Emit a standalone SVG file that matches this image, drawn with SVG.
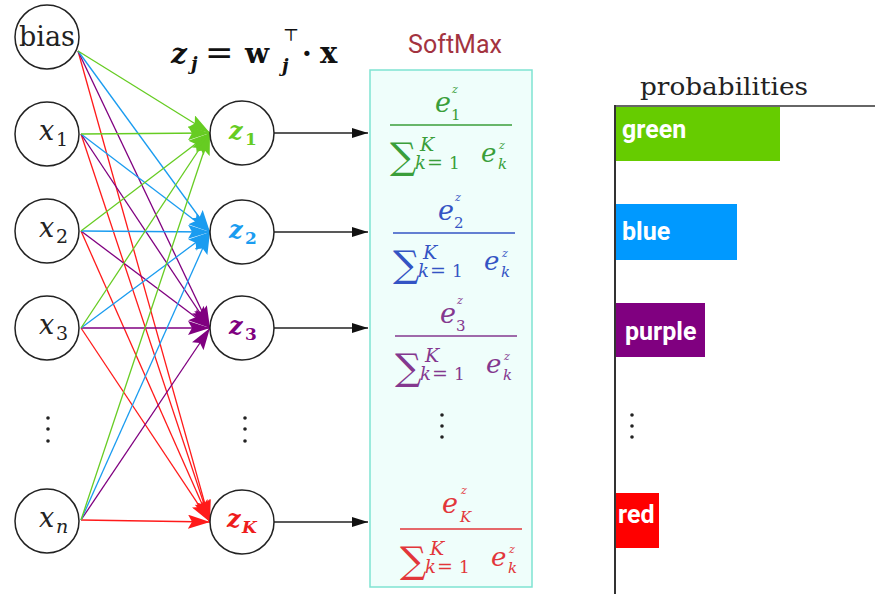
<svg xmlns="http://www.w3.org/2000/svg" width="875" height="594" viewBox="0 0 875 594">
<style>
.nd circle{fill:#fff;stroke:#222;stroke-width:1.5}
.mi{font-family:"DejaVu Serif","Liberation Serif",serif;font-style:italic;stroke:none}
.mb{font-family:"DejaVu Serif","Liberation Serif",serif;font-style:italic;font-weight:bold;stroke:none}
.rb{font-family:"DejaVu Serif","Liberation Serif",serif;font-weight:bold;stroke:none}
.r{font-family:"DejaVu Serif","Liberation Serif",serif;stroke:none}
.lbl{font-family:Roboto,"Liberation Sans",sans-serif;font-weight:bold;fill:#fff;font-size:25px}
.g{stroke:#66cc22}.b{stroke:#1a9cf0}.p{stroke:#800080}.rd{stroke:#ff1a1a}
#conn line{stroke-width:1.3;fill:none}
.ar line{stroke:#222;stroke-width:1.5}
.dot{fill:#222}
</style>
<defs>
<marker id="mg" viewBox="0 0 22 14" refX="22" refY="7" markerWidth="22" markerHeight="14" markerUnits="userSpaceOnUse" orient="auto"><path d="M0,0 L22,7 L0,14 L4,7 z" fill="#66cc22"/></marker>
<marker id="mb" viewBox="0 0 22 14" refX="22" refY="7" markerWidth="22" markerHeight="14" markerUnits="userSpaceOnUse" orient="auto"><path d="M0,0 L22,7 L0,14 L4,7 z" fill="#1a9cf0"/></marker>
<marker id="mp" viewBox="0 0 22 14" refX="22" refY="7" markerWidth="22" markerHeight="14" markerUnits="userSpaceOnUse" orient="auto"><path d="M0,0 L22,7 L0,14 L4,7 z" fill="#800080"/></marker>
<marker id="mr" viewBox="0 0 22 14" refX="22" refY="7" markerWidth="22" markerHeight="14" markerUnits="userSpaceOnUse" orient="auto"><path d="M0,0 L22,7 L0,14 L4,7 z" fill="#ff1a1a"/></marker>
<marker id="mk" viewBox="0 0 16 10" refX="16" refY="5" markerWidth="16" markerHeight="10" markerUnits="userSpaceOnUse" orient="auto"><path d="M0,0 L16,5 L0,10 z" fill="#111"/></marker>
</defs>
<rect width="875" height="594" fill="#fff"/>

<!-- softmax box -->
<g id="softmax">
<text x="455" y="53" text-anchor="middle" font-family="Roboto,'Liberation Sans',sans-serif" font-size="25" fill="#a3333f">SoftMax</text>
<rect x="370" y="70" width="162" height="517" fill="#effefb" stroke="#7fe3d2" stroke-width="1.5"/>
</g>

<!-- connectors -->
<g id="conn">
<line class="rd" x1="78" y1="51" x2="210" y2="522" marker-end="url(#mr)"/>
<line class="rd" x1="81" y1="134" x2="210" y2="522" marker-end="url(#mr)"/>
<line class="rd" x1="81" y1="231" x2="210" y2="522" marker-end="url(#mr)"/>
<line class="rd" x1="81" y1="328" x2="210" y2="522" marker-end="url(#mr)"/>
<line class="rd" x1="81" y1="520" x2="210" y2="522" marker-end="url(#mr)"/>
<line class="p" x1="78" y1="51" x2="210" y2="328" marker-end="url(#mp)"/>
<line class="p" x1="81" y1="134" x2="210" y2="328" marker-end="url(#mp)"/>
<line class="p" x1="81" y1="231" x2="210" y2="328" marker-end="url(#mp)"/>
<line class="p" x1="81" y1="328" x2="210" y2="328" marker-end="url(#mp)"/>
<line class="p" x1="81" y1="520" x2="210" y2="328" marker-end="url(#mp)"/>
<line class="b" x1="78" y1="51" x2="210" y2="232" marker-end="url(#mb)"/>
<line class="b" x1="81" y1="134" x2="210" y2="232" marker-end="url(#mb)"/>
<line class="b" x1="81" y1="231" x2="210" y2="232" marker-end="url(#mb)"/>
<line class="b" x1="81" y1="328" x2="210" y2="232" marker-end="url(#mb)"/>
<line class="b" x1="81" y1="520" x2="210" y2="232" marker-end="url(#mb)"/>
<line class="g" x1="78" y1="51" x2="210" y2="133" marker-end="url(#mg)"/>
<line class="g" x1="81" y1="134" x2="210" y2="133" marker-end="url(#mg)"/>
<line class="g" x1="81" y1="231" x2="210" y2="133" marker-end="url(#mg)"/>
<line class="g" x1="81" y1="328" x2="210" y2="133" marker-end="url(#mg)"/>
<line class="g" x1="81" y1="520" x2="210" y2="133" marker-end="url(#mg)"/>
<g class="ar">
<line x1="274" y1="133" x2="368" y2="133" marker-end="url(#mk)"/>
<line x1="274" y1="232" x2="368" y2="232" marker-end="url(#mk)"/>
<line x1="274" y1="328" x2="368" y2="328" marker-end="url(#mk)"/>
<line x1="274" y1="522" x2="368" y2="522" marker-end="url(#mk)"/>
</g>
</g>

<!-- input nodes -->
<g id="bias" class="nd"><circle cx="47" cy="37" r="32"/><text class="r" x="47" y="46" text-anchor="middle" font-size="27" fill="#222">bias</text></g>
<g id="x1" class="nd"><circle cx="47" cy="134" r="32"/><text class="mi" x="39" y="140" font-size="27" fill="#222">x</text><text class="r" x="56" y="146" font-size="19" fill="#222">1</text></g>
<g id="x2" class="nd"><circle cx="47" cy="231" r="32"/><text class="mi" x="39" y="237" font-size="27" fill="#222">x</text><text class="r" x="56" y="243" font-size="19" fill="#222">2</text></g>
<g id="x3" class="nd"><circle cx="47" cy="328" r="32"/><text class="mi" x="39" y="334" font-size="27" fill="#222">x</text><text class="r" x="56" y="340" font-size="19" fill="#222">3</text></g>
<g id="xn" class="nd"><circle cx="47" cy="521" r="32"/><text class="mi" x="39" y="527" font-size="27" fill="#222">x</text><text class="mi" x="56" y="533" font-size="19" fill="#222">n</text></g>
<g id="xdots"><circle class="dot" cx="48" cy="418" r="1.8"/><circle class="dot" cx="48" cy="429" r="1.8"/><circle class="dot" cx="48" cy="441" r="1.8"/></g>

<!-- z nodes -->
<g id="z1" class="nd"><circle cx="242" cy="133" r="32"/><text class="mb" x="229" y="139" font-size="24" fill="#66cc22">z</text><text class="rb" x="245" y="145" font-size="17" fill="#66cc22">1</text></g>
<g id="z2" class="nd"><circle cx="242" cy="232" r="32"/><text class="mb" x="229" y="238" font-size="24" fill="#1a9cf0">z</text><text class="rb" x="245" y="244" font-size="17" fill="#1a9cf0">2</text></g>
<g id="z3" class="nd"><circle cx="242" cy="328" r="32"/><text class="mb" x="229" y="334" font-size="24" fill="#800080">z</text><text class="rb" x="245" y="340" font-size="17" fill="#800080">3</text></g>
<g id="zK" class="nd"><circle cx="242" cy="522" r="32"/><text class="mb" x="227" y="527" font-size="24" fill="#ee1c1c">z</text><text class="mb" x="242" y="533" font-size="17" fill="#ee1c1c">K</text></g>
<g id="zdots"><circle class="dot" cx="245" cy="418" r="1.8"/><circle class="dot" cx="245" cy="429" r="1.8"/><circle class="dot" cx="245" cy="441" r="1.8"/></g>

<!-- formula -->
<g id="formula" fill="#111">
<text class="mb" x="171" y="63" font-size="28">z</text>
<text class="mb" x="191" y="70" font-size="18">j</text>
<text class="r" x="205" y="64" font-size="34">=</text>
<text class="rb" x="245" y="63" font-size="28">w</text>
<text class="mb" x="282" y="72" font-size="18">j</text>
<text class="r" x="283" y="41" font-size="17">⊤</text>
<text class="rb" x="302" y="63" font-size="28">·</text>
<text class="rb" x="320" y="63" font-size="29">x</text>
</g>

<!-- fractions -->
<g id="frac1" fill="#3a9e3a" stroke="#3a9e3a">
<text class="mi" x="435" y="112" font-size="27">e</text>
<text class="mi" x="452" y="93" font-size="11">z</text>
<text class="r" x="451" y="120" font-size="15">1</text>
<line x1="390" y1="125" x2="512" y2="125" stroke-width="1.5"/>
<text class="r" x="390" y="169" font-size="37">∑</text>
<text class="mi" x="420" y="151" font-size="19">K</text>
<text class="mi" x="415" y="169" font-size="18">k</text>
<text class="r" x="427" y="169" font-size="19">=</text>
<text class="r" x="449" y="169" font-size="17">1</text>
<text class="mi" x="481" y="162" font-size="26">e</text>
<text class="mi" x="499" y="149" font-size="11">z</text>
<text class="mi" x="498" y="169" font-size="15">k</text>
</g>
<g id="frac2" fill="#3454c4" stroke="#3454c4" transform="translate(3,108)">
<text class="mi" x="435" y="112" font-size="27">e</text>
<text class="mi" x="452" y="93" font-size="11">z</text>
<text class="r" x="451" y="120" font-size="15">2</text>
<line x1="390" y1="125" x2="512" y2="125" stroke-width="1.5"/>
<text class="r" x="390" y="169" font-size="37">∑</text>
<text class="mi" x="420" y="151" font-size="19">K</text>
<text class="mi" x="415" y="169" font-size="18">k</text>
<text class="r" x="427" y="169" font-size="19">=</text>
<text class="r" x="449" y="169" font-size="17">1</text>
<text class="mi" x="481" y="162" font-size="26">e</text>
<text class="mi" x="499" y="149" font-size="11">z</text>
<text class="mi" x="498" y="169" font-size="15">k</text>
</g>
<g id="frac3" fill="#84388f" stroke="#84388f" transform="translate(5,211)">
<text class="mi" x="435" y="112" font-size="27">e</text>
<text class="mi" x="452" y="93" font-size="11">z</text>
<text class="r" x="451" y="120" font-size="15">3</text>
<line x1="390" y1="125" x2="512" y2="125" stroke-width="1.5"/>
<text class="r" x="390" y="169" font-size="37">∑</text>
<text class="mi" x="420" y="151" font-size="19">K</text>
<text class="mi" x="415" y="169" font-size="18">k</text>
<text class="r" x="427" y="169" font-size="19">=</text>
<text class="r" x="449" y="169" font-size="17">1</text>
<text class="mi" x="481" y="162" font-size="26">e</text>
<text class="mi" x="499" y="149" font-size="11">z</text>
<text class="mi" x="498" y="169" font-size="15">k</text>
</g>
<g id="sdots"><circle class="dot" cx="442" cy="415" r="1.8"/><circle class="dot" cx="442" cy="426" r="1.8"/><circle class="dot" cx="442" cy="437" r="1.8"/></g>
<g id="fracK" fill="#e2363a" stroke="#e2363a" transform="translate(10,404)">
<text class="mi" x="432" y="109" font-size="27">e</text>
<text class="mi" x="451" y="90" font-size="11">z</text>
<text class="mi" x="450" y="118" font-size="15">K</text>
<line x1="390" y1="125" x2="512" y2="125" stroke-width="1.5"/>
<text class="r" x="390" y="169" font-size="37">∑</text>
<text class="mi" x="420" y="151" font-size="19">K</text>
<text class="mi" x="415" y="169" font-size="18">k</text>
<text class="r" x="427" y="169" font-size="19">=</text>
<text class="r" x="449" y="169" font-size="17">1</text>
<text class="mi" x="481" y="162" font-size="26">e</text>
<text class="mi" x="499" y="149" font-size="11">z</text>
<text class="mi" x="498" y="169" font-size="15">k</text>
</g>

<!-- bar chart -->
<g id="chart">
<text x="640" y="95" font-family="'DejaVu Serif','Liberation Serif',serif" font-size="25" textLength="168" lengthAdjust="spacingAndGlyphs" fill="#222">probabilities</text>
<rect x="616" y="107" width="164" height="54" fill="#66cc00"/>
<text class="lbl" x="622" y="138">green</text>
<rect x="616" y="204" width="121" height="56" fill="#0099ff"/>
<text class="lbl" x="622" y="240">blue</text>
<rect x="616" y="303" width="89" height="54" fill="#800080"/>
<text class="lbl" x="625" y="340">purple</text>
<circle class="dot" cx="632" cy="415" r="1.8"/><circle class="dot" cx="632" cy="426" r="1.8"/><circle class="dot" cx="632" cy="437" r="1.8"/>
<rect x="616" y="493" width="43" height="55" fill="#ff0000"/>
<text class="lbl" x="618" y="523">red</text>
<line x1="615" y1="106" x2="875" y2="106" stroke="#333" stroke-width="1.5"/>
<line x1="615" y1="105" x2="615" y2="594" stroke="#333" stroke-width="2"/>
</g>
</svg>
